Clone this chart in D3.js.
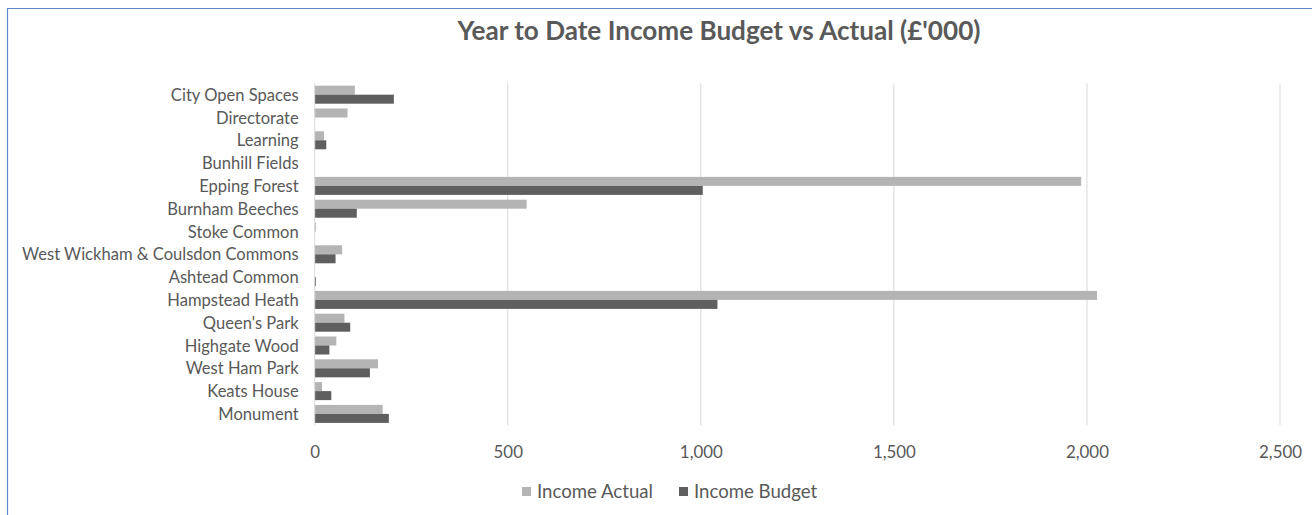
<!DOCTYPE html>
<html>
<head>
<meta charset="utf-8">
<script src="https://cdn.jsdelivr.net/npm/d3@7"></script>
<style>
  html, body { margin: 0; padding: 0; background: #fff; }
  svg { display: block; }
  text { font-family: Lato, "Open Sans", sans-serif; fill: #595959; }
</style>
</head>
<body>
<svg id="chart" width="1312" height="515"></svg>
<script>
const categories = ["City Open Spaces","Directorate","Learning","Bunhill Fields","Epping Forest","Burnham Beeches","Stoke Common","West Wickham & Coulsdon Commons","Ashtead Common","Hampstead Heath","Queen's Park","Highgate Wood","West Ham Park","Keats House","Monument"];
const incomeActual = [104, 85, 24, 0, 1985, 549, 3, 71, 0, 2026, 77, 56, 164, 19, 176];
const incomeBudget = [205, 0, 30, 0, 1005, 109, 0, 54, 3, 1043, 92, 38, 143, 43, 192];
const xTicks = [0, 500, 1000, 1500, 2000, 2500];
const seriesNames = ["Income Actual", "Income Budget"];
const seriesColors = ["#b4b4b4", "#5f5f5f"];
const titleText = "Year to Date Income Budget vs Actual (£'000)";

const svg = d3.select("#chart");
const W = 1312, H = 515;

// chart frame (partially cropped like the reference)
svg.append("path")
  .attr("d", `M7.5,${H + 5} V8.5 H${W + 5}`)
  .attr("fill", "none").attr("stroke", "#5b87c9").attr("stroke-width", 1.2);

const plot = { left: 314.7, right: 1280, top: 83.3, bottom: 425.3 };

const x = d3.scaleLinear().domain([0, 2500]).range([plot.left, plot.right]);
const y = d3.scaleBand().domain(categories).range([plot.top, plot.bottom]).paddingInner(0.21).paddingOuter(0.105);
const ySub = d3.scaleBand().domain(seriesNames).range([0, y.bandwidth()]);

// gridlines
svg.append("g").selectAll("line").data(xTicks.filter(d => d > 0)).join("line")
  .attr("x1", d => x(d)).attr("x2", d => x(d))
  .attr("y1", plot.top).attr("y2", plot.bottom)
  .attr("stroke", "#d9d9d9").attr("stroke-width", 1);

// bars
const data = categories.map((c, i) => ({ c, vals: [incomeActual[i], incomeBudget[i]] }));
const g = svg.append("g").selectAll("g").data(data).join("g")
  .attr("transform", d => `translate(0,${y(d.c)})`);
g.selectAll("rect").data(d => d.vals.map((v, k) => ({ v, k }))).join("rect")
  .attr("x", x(0))
  .attr("y", d => ySub(seriesNames[d.k]))
  .attr("width", d => Math.max(0, x(d.v) - x(0)))
  .attr("height", ySub.bandwidth())
  .attr("fill", d => seriesColors[d.k]);

// axis line at 0
svg.append("line").attr("x1", x(0)).attr("x2", x(0)).attr("y1", plot.top).attr("y2", plot.bottom)
  .attr("stroke", "#d9d9d9").attr("stroke-width", 1);

// x axis labels
const xAxis = d3.axisBottom(x).tickValues(xTicks).tickFormat(d3.format(",")).tickSize(0).tickPadding(0);
const xa = svg.append("g").attr("transform", `translate(0,${plot.bottom + 21})`).call(xAxis);
xa.select(".domain").remove();
xa.selectAll("text").attr("font-size", 14).attr("fill", "#595959").attr("font-family", "Lato, sans-serif");
(function fitTicks() {
  const last = xa.selectAll("text").nodes().slice(-1)[0];
  const w = last.getComputedTextLength();
  xa.selectAll("text").attr("font-size", 14 * 43 / w);
})();

// y axis labels
const yAxis = d3.axisLeft(y).tickSize(0).tickPadding(16);
const ya = svg.append("g").attr("transform", `translate(${plot.left},0.8)`).call(yAxis);
ya.select(".domain").remove();
ya.selectAll("text").attr("font-size", 14.5).attr("fill", "#595959").attr("font-family", "Lato, sans-serif");
(function fit() {
  const nodes = ya.selectAll("text").nodes();
  let maxW = 0; nodes.forEach(n => maxW = Math.max(maxW, n.getComputedTextLength()));
  ya.selectAll("text").attr("font-size", 14.5 * 277 / maxW);
})();

// title
const title = svg.append("text").attr("x", 719).attr("y", 40).attr("text-anchor", "middle")
  .attr("font-size", 21).attr("font-weight", "bold").attr("fill", "#595959").text(titleText);
(function fitTitle() {
  const w = title.node().getComputedTextLength();
  title.attr("font-size", 21 * 523 / w);
})();

// legend
const legend = svg.append("g");
const legendX = [522, 679];
const legendTexts = [];
seriesNames.forEach((name, k) => {
  legend.append("rect").attr("x", legendX[k]).attr("y", 487).attr("width", 9).attr("height", 9).attr("fill", seriesColors[k]);
  legendTexts.push(legend.append("text").attr("x", legendX[k] + 15).attr("y", 498).attr("font-size", 15.5).attr("fill", "#595959").text(name));
});
(function fitLegend() {
  const w = legendTexts[0].node().getComputedTextLength();
  legendTexts.forEach(t => t.attr("font-size", 15.5 * 116 / w));
})();
</script>
</body>
</html>
